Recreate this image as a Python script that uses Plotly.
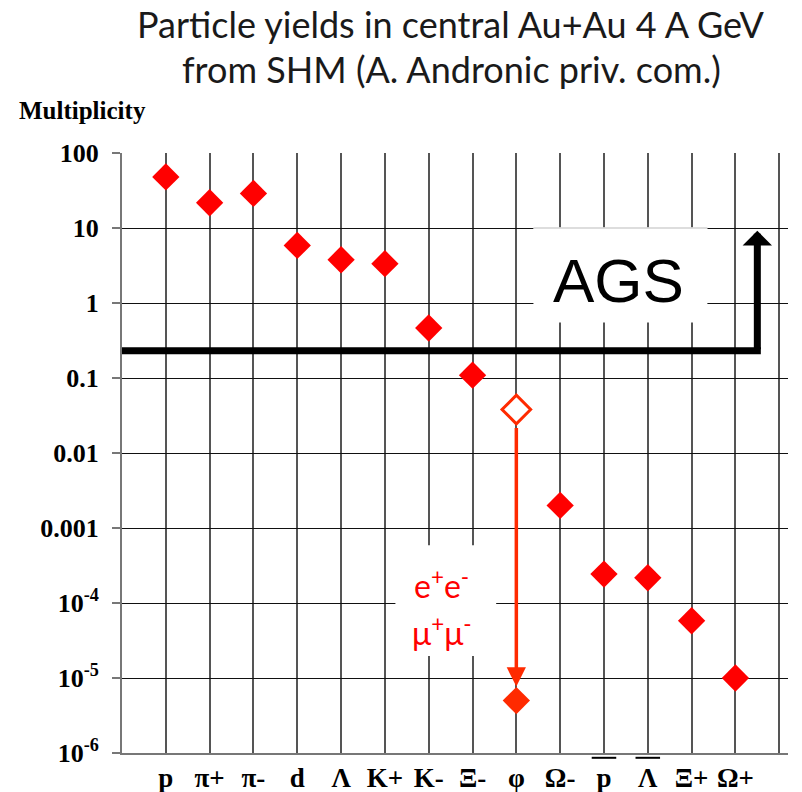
import numpy as np
import plotly.graph_objects as go

# Particle species (antiparticles get an overline drawn above the label)
tick_labels = ["p", "π+", "π-", "d", "Λ", "K+", "K-", "Ξ-", "φ", "Ω-", "p", "Λ", "Ξ+", "Ω+"]
is_anti = [False, False, False, False, False, False, False, False, False, False, True, True, False, False]

# Hadron multiplicities (φ handled separately)
yields = [47.9, 21.7, 28.9, 5.86, 3.77, 3.34, 0.464, 0.109, None, 0.0020, 2.43e-4, 2.17e-4, 5.8e-5, 1.0e-5]
phi_yield = 0.038          # φ multiplicity
phi_dilepton = 5.0e-6      # φ -> e+e- / μ+μ-

# AGS reach line
ags_level = 0.231
ags_arrow_top = 9.2
ags_x = 14.5

y_tick_vals = [100, 10, 1, 0.1, 0.01, 0.001, 1e-4, 1e-5, 1e-6]
y_tick_text = ["100", "10", "1", "0.1", "0.01", "0.001", "10<sup>-4</sup>", "10<sup>-5</sup>", "10<sup>-6</sup>"]

x_pos = list(range(1, len(tick_labels) + 1))
phi_x = tick_labels.index("φ") + 1

RED = "#ff0000"
ORANGE_RED = "#ff2a00"
SERIF = "Liberation Serif, Times New Roman, serif"
SANS = "Lato, Open Sans, sans-serif"

fig = go.Figure()

# filled markers for all species except φ
fx = [x for x, v in zip(x_pos, yields) if v is not None]
fy = [v for v in yields if v is not None]
fig.add_trace(go.Scatter(x=fx, y=fy, mode="markers",
                         marker=dict(symbol="diamond", size=21, color=RED, line=dict(width=0)),
                         showlegend=False, hoverinfo="skip"))
# φ: open symbol for hadronic yield, filled for dilepton
fig.add_trace(go.Scatter(x=[phi_x], y=[phi_yield], mode="markers",
                         marker=dict(symbol="diamond", size=22, color="white",
                                     line=dict(width=3, color=ORANGE_RED)),
                         showlegend=False, hoverinfo="skip"))
fig.add_trace(go.Scatter(x=[phi_x], y=[phi_dilepton], mode="markers",
                         marker=dict(symbol="diamond", size=21, color=ORANGE_RED, line=dict(width=0)),
                         showlegend=False, hoverinfo="skip"))

# red arrow from φ yield down to dilepton yield
fig.add_annotation(x=phi_x, y=np.log10(phi_dilepton), ax=phi_x, ay=np.log10(phi_yield),
                   xref="x", yref="y", axref="x", ayref="y", text="",
                   showarrow=True, arrowhead=2, arrowsize=1.1, arrowwidth=3.5,
                   arrowcolor=ORANGE_RED, standoff=14, startstandoff=17)

shapes = []
# white panel behind the dilepton label
shapes.append(dict(type="rect", xref="x", yref="y", x0=6.24, x1=8.54,
                   y0=1.96e-5, y1=5.9e-4,
                   fillcolor="white", line=dict(width=0), layer="above"))
# white panel behind AGS label
shapes.append(dict(type="rect", xref="x", yref="y", x0=9.39, x1=13.36,
                   y0=0.55, y1=10.2,
                   fillcolor="white", line=dict(width=0), layer="above"))
# faint edge along the panel top
shapes.append(dict(type="line", xref="x", yref="y", x0=9.39, x1=13.36, y0=10, y1=10,
                   line=dict(color="#bbb", width=1), layer="above"))
# AGS horizontal bar
shapes.append(dict(type="line", xref="x", yref="y", x0=0, x1=ags_x + 0.08,
                   y0=ags_level, y1=ags_level,
                   line=dict(color="black", width=7), layer="above"))
# overlines for antiparticles
for x, anti in zip(x_pos, is_anti):
    if anti:
        shapes.append(dict(type="line", xref="x", yref="paper", x0=x - 0.28, x1=x + 0.28,
                           y0=-0.008, y1=-0.008, line=dict(color="black", width=2)))
fig.update_layout(shapes=shapes)

# AGS vertical arrow
fig.add_annotation(x=ags_x, y=np.log10(ags_arrow_top), ax=ags_x, ay=np.log10(ags_level),
                   xref="x", yref="y", axref="x", ayref="y", text="",
                   showarrow=True, arrowhead=1, arrowsize=0.7, arrowwidth=7,
                   arrowcolor="black", startstandoff=0)

fig.add_annotation(x=11.33, y=np.log10(2.0), xref="x", yref="y", text="AGS", showarrow=False,
                   font=dict(family="Liberation Sans, Arial, sans-serif", size=62, color="black"))

fig.add_annotation(x=7.3, y=np.log10(1.8e-4), xref="x", yref="y",
                   text="e<sup>+</sup>e<sup>-</sup>", showarrow=False,
                   font=dict(family=SANS, size=32, color=RED))
fig.add_annotation(x=7.3, y=np.log10(4.2e-5), xref="x", yref="y",
                   text="μ<sup>+</sup>μ<sup>-</sup>", showarrow=False,
                   font=dict(family=SANS, size=32, color=RED))

# titles
fig.add_annotation(xref="paper", yref="paper", x=0.493, y=1.0, yanchor="middle", yshift=129,
                   text="Particle yields in central Au+Au 4 A GeV", showarrow=False,
                   font=dict(family=SANS, size=36, color="#1a1a1a"))
fig.add_annotation(xref="paper", yref="paper", x=0.495, y=1.0, yanchor="middle", yshift=84,
                   text="from SHM (A. Andronic priv. com.)", showarrow=False,
                   font=dict(family=SANS, size=36, color="#1a1a1a"))
fig.add_annotation(xref="paper", yref="paper", x=-0.157, xanchor="left", y=1.0, yanchor="middle",
                   yshift=43, text="Multiplicity", showarrow=False,
                   font=dict(family=SERIF, size=25, color="black", weight="bold"))

fig.update_xaxes(range=[0, 15.2], tickvals=list(range(0, 16)),
                 ticktext=[""] + tick_labels + [""],
                 showgrid=True, gridcolor="#555", gridwidth=1.5,
                 showline=True, linecolor="#777", linewidth=2,
                 ticks="", zeroline=False, automargin=False,
                 tickfont=dict(family=SERIF, size=27, color="black", weight="bold"))
fig.update_yaxes(type="log", range=[-6, 2], tickvals=y_tick_vals, ticktext=y_tick_text,
                 showgrid=True, gridcolor="#111", gridwidth=1,
                 showline=True, linecolor="#777", linewidth=2,
                 ticks="outside", ticklen=8, tickcolor="#777", tickwidth=1.5,
                 ticklabelstandoff=8, zeroline=False, automargin=False,
                 tickfont=dict(family=SERIF, size=26, color="black", weight="bold"))

fig.update_layout(width=802, height=792, plot_bgcolor="white", paper_bgcolor="white",
                  margin=dict(l=122, r=14, t=153, b=39), showlegend=False)

fig.write_html("out.html")
